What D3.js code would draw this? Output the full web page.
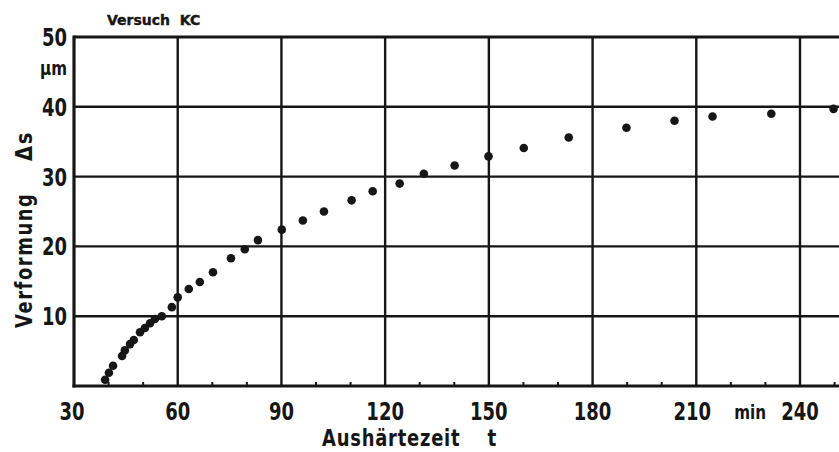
<!DOCTYPE html>
<html>
<head>
<meta charset="utf-8">
<script src="https://cdn.jsdelivr.net/npm/d3@7"></script>
<style>
  html, body { margin: 0; padding: 0; background: #fff; }
  svg { display: block; }
  .lbl { font-family: 'DejaVu Sans', sans-serif; font-weight: bold; fill: #161616; }
</style>
</head>
<body>
<svg id="chart" width="839" height="452"></svg>
<script>
// ---- data ----
const title = "Versuch  KC";
const xTicks = [30, 60, 90, 120, 150, 180, 210, 240];
const xMinorTicks = [40, 50, 70, 80, 100, 110, 130, 140, 160, 170, 190, 200, 220, 230, 250];
const yTicks = [10, 20, 30, 40, 50];
const xUnit = "min";
const yUnit = "µm";
const xTitle = "Aushärtezeit";
const xSymbol = "t";
const yTitle = "Verformung";
const ySymbol = "Δs";
const timeMin = [39, 40.1, 41.3, 43.9, 44.7, 46.2, 47.3, 49.1, 50.5, 52, 53.4, 55.4, 58.3, 60, 63.2, 66.4, 70.2, 75.4, 79.4, 83.2,
                 90.1, 96.2, 102.3, 110.3, 116.4, 124.2, 131.2, 140.1, 149.9, 160.1, 173.1, 189.8, 203.7, 214.7, 231.7, 249.7];
const deformUm = [0.9, 1.9, 2.9, 4.3, 5.1, 6.0, 6.6, 7.7, 8.3, 9.0, 9.6, 10.0, 11.3, 12.7, 13.9, 14.9, 16.3, 18.3, 19.6, 20.9,
                  22.4, 23.7, 25.0, 26.6, 27.9, 29.0, 30.4, 31.6, 32.9, 34.1, 35.6, 37.0, 38.0, 38.6, 39.0, 39.7];

// ---- layout ----
const W = 839, H = 452;
const svg = d3.select("#chart");
const x = d3.scaleLinear().domain([30, 240]).range([74, 800]);
const y = d3.scaleLinear().domain([0, 50]).range([386, 37]);
const xRight = W + 2;
const ink = "#161616";

// helper: horizontally condensed bold text (technical lettering look)
function label(px, py, txt, opts) {
  const o = Object.assign({ size: 25, sx: 0.72, anchor: "start", rotate: 0, spacing: 0 }, opts || {});
  const t = svg.append("text").attr("class", "lbl")
    .attr("transform", `translate(${px},${py}) rotate(${o.rotate}) scale(${o.sx},1)`)
    .attr("text-anchor", o.anchor)
    .attr("font-size", o.size)
    .attr("letter-spacing", o.spacing)
    .attr("xml:space", "preserve")
    .text(txt);
  return t;
}

// grid lines
const g = svg.append("g");
g.selectAll("line.h").data(yTicks).join("line")
  .attr("x1", x(30)).attr("x2", xRight)
  .attr("y1", d => y(d)).attr("y2", d => y(d))
  .attr("stroke", ink).attr("stroke-width", d => d === 50 ? 3 : 2.4);
g.selectAll("line.v").data(xTicks.filter(d => d > 30)).join("line")
  .attr("x1", d => x(d)).attr("x2", d => x(d))
  .attr("y1", y(50)).attr("y2", y(0))
  .attr("stroke", ink).attr("stroke-width", 2.4);

// minor ticks on bottom axis
g.selectAll("line.m").data(xMinorTicks).join("line")
  .attr("x1", d => x(d)).attr("x2", d => x(d))
  .attr("y1", y(0)).attr("y2", y(0) - 4)
  .attr("stroke", ink).attr("stroke-width", 2);

// frame: left and bottom axes
svg.append("line").attr("x1", x(30)).attr("x2", x(30)).attr("y1", y(50) - 1.5).attr("y2", y(0) + 1.5)
  .attr("stroke", ink).attr("stroke-width", 3.2);
svg.append("line").attr("x1", x(30) - 1.5).attr("x2", xRight).attr("y1", y(0)).attr("y2", y(0))
  .attr("stroke", ink).attr("stroke-width", 3.2);

// y tick labels
yTicks.forEach(d => label(67, y(d) + 9, String(d), { anchor: "end" }));
label(67, y(45.5) + 7, yUnit, { anchor: "end", size: 19, sx: 0.8 });

// x tick labels
xTicks.forEach(d => label(x(d) + (d === 30 ? -2 : 0) - (d === 210 ? 4 : 0), 420, String(d), { anchor: "middle" }));
label((x(210) + x(240)) / 2 + 2, 419, xUnit, { anchor: "middle", size: 19, sx: 0.8 });

// axis titles
label(322, 446, xTitle, { size: 23, sx: 0.78, spacing: 1 });
label(492, 446, xSymbol, { size: 23, sx: 0.8, anchor: "middle" });

label(32, 328, yTitle, { size: 23, sx: 0.78, rotate: -90, spacing: 2 });
label(32, 146, ySymbol, { size: 23, sx: 0.85, rotate: -90, anchor: "middle", spacing: 2 });

// title
label(107, 25, title, { size: 14, sx: 1.0 }).attr("stroke", ink).attr("stroke-width", 0.4);

// data points
svg.append("g").selectAll("circle").data(timeMin.map((t, i) => [t, deformUm[i]])).join("circle")
  .attr("cx", d => x(d[0])).attr("cy", d => y(d[1]))
  .attr("r", 4.3)
  .attr("fill", ink);
</script>
</body>
</html>
